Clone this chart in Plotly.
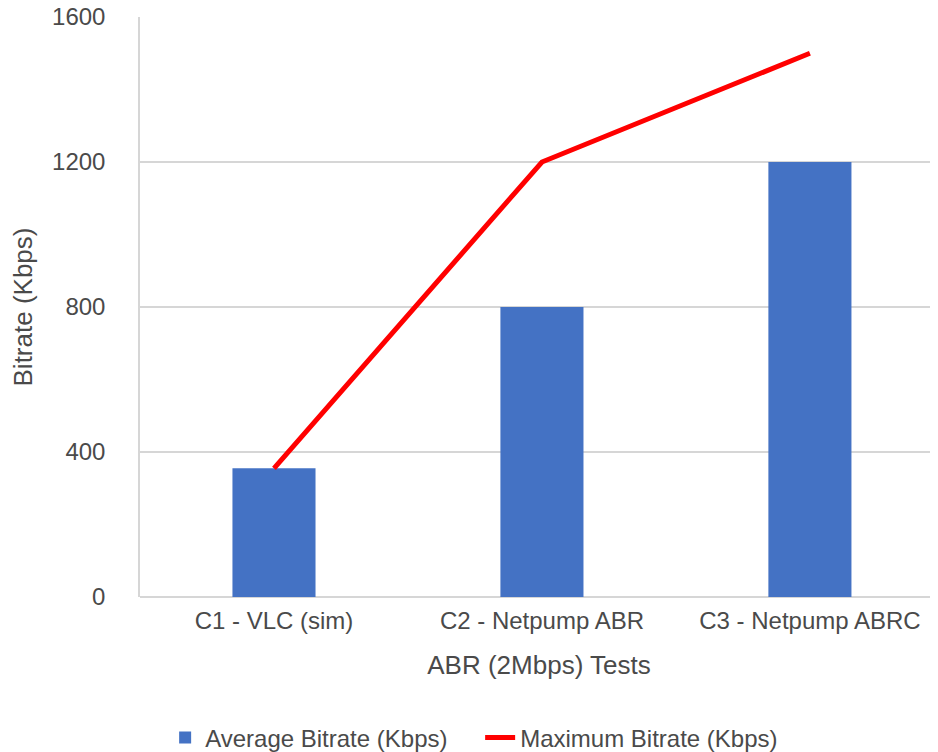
import plotly.graph_objects as go

categories = ["C1 - VLC (sim)", "C2 - Netpump ABR", "C3 - Netpump ABRC"]
avg_bitrate = [355, 800, 1200]
max_bitrate = [355, 1200, 1500]
y_ticks = [0, 400, 800, 1200, 1600]

FONT = "Liberation Sans, Arial, sans-serif"
TXT = "#4a4a4a"
GRID = "#d6d6d6"

fig = go.Figure()
fig.add_trace(go.Bar(
    x=categories, y=avg_bitrate, name="Average Bitrate (Kbps)",
    marker=dict(color="#4472c4", line=dict(width=0)),
))
fig.add_trace(go.Scatter(
    x=categories, y=max_bitrate, name="Maximum Bitrate (Kbps)",
    mode="lines", line=dict(color="#ff0000", width=5),
))

fig.update_layout(
    width=930, height=744,
    margin=dict(l=132, r=0, t=9, b=155, autoexpand=False),
    paper_bgcolor="white", plot_bgcolor="white",
    font=dict(family=FONT, size=24, color=TXT),
    bargap=0.69,
    showlegend=True,
    legend=dict(
        orientation="h", x=0.0315, xanchor="left", y=-0.243, yanchor="middle",
        font=dict(size=24, color=TXT), traceorder="normal",
        itemwidth=30, entrywidth=270, entrywidthmode="pixels",
    ),
    xaxis=dict(
        type="category", range=[-0.5, 2.478], automargin=False,
        showgrid=False, showline=False, zeroline=False,
        ticks="", ticklabelstandoff=7, tickfont=dict(size=24, color=TXT),
        ticklabeloverflow="allow",
        title=dict(text="ABR (2Mbps) Tests", font=dict(size=26, color=TXT), standoff=22),
    ),
    yaxis=dict(
        range=[0, 1600], tickvals=y_ticks, ticktext=[str(v) for v in y_ticks],
        automargin=False, ticklabeloverflow="allow",
        showgrid=True, gridcolor=GRID, gridwidth=1.5,
        zeroline=True, zerolinecolor=GRID, zerolinewidth=1.5,
        showline=True, linecolor=GRID, linewidth=1.5,
        ticks="", ticklabelstandoff=28, tickfont=dict(size=24, color=TXT),
        title=dict(text="Bitrate (Kbps)", font=dict(size=26, color=TXT), standoff=18),
    ),
)

fig.write_html("out.html")
